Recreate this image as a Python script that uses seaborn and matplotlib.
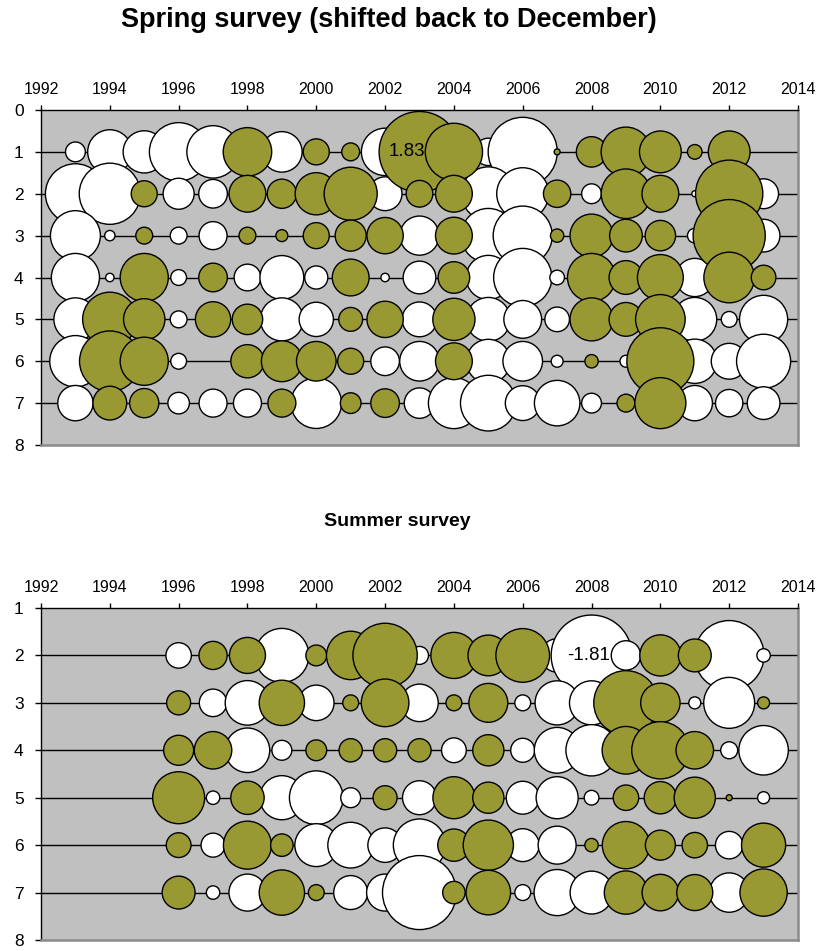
import numpy as np
import pandas as pd
import matplotlib
matplotlib.use("Agg")
import matplotlib.pyplot as plt
import seaborn as sns

# ---- data: standardized residuals by age (rows) and year ----
spring_years = list(range(1993, 2014))
summer_years = list(range(1996, 2014))
nan = np.nan

spring_age1 = [-0.11, -0.55, -0.50, -0.96, -0.77, 0.66, -0.46, 0.19, 0.09, -0.63, 1.83,
               0.92, -0.21, -1.34, 0.01, 0.26, 0.69, 0.49, 0.06, 0.49, nan]
spring_age2 = [-1.01, -1.05, 0.19, -0.27, -0.23, 0.38, 0.24, 0.50, 0.79, -0.32, 0.20,
               0.38, -0.81, -0.76, 0.21, -0.11, 0.69, 0.38, -0.01, 1.27, -0.25]
spring_age3 = [-0.70, -0.03, 0.08, -0.08, -0.22, 0.08, 0.04, 0.19, 0.27, 0.37, -0.43,
               0.38, -0.83, -0.98, 0.05, 0.52, 0.30, 0.26, -0.06, 1.46, -0.30]
spring_age4 = [-0.65, -0.02, 0.65, -0.07, 0.23, -0.20, -0.54, -0.15, 0.38, -0.02, -0.30,
               0.28, -0.55, -0.95, -0.06, 0.65, 0.32, 0.59, -0.41, 0.72, 0.17]
spring_age5 = [-0.52, 0.83, 0.48, -0.08, 0.35, 0.26, -0.52, -0.33, 0.16, 0.37, -0.34,
               0.50, -0.54, -0.40, -0.17, 0.52, 0.32, 0.69, -0.54, -0.07, -0.65]
spring_age6 = [-0.74, 1.03, 0.65, -0.07, nan, 0.31, 0.47, 0.44, 0.19, -0.23, -0.44,
               0.38, -0.54, -0.44, -0.04, 0.05, -0.04, 1.26, -0.55, -0.36, -0.82]
spring_age7 = [-0.35, 0.32, 0.24, -0.13, -0.22, -0.22, 0.22, -0.72, 0.12, 0.23, -0.26,
               -0.73, -0.87, -0.34, -0.58, -0.11, 0.09, 0.73, -0.35, -0.21, -0.30]

summer_age2 = [-0.18, 0.22, 0.36, -0.81, 0.12, 0.65, 1.15, -0.09, 0.59, 0.46, 0.80,
               -0.31, -1.81, -0.24, 0.47, 0.30, -1.35, -0.05]
summer_age3 = [0.16, -0.21, -0.55, 0.57, -0.35, 0.07, 0.63, -0.39, 0.07, 0.42, -0.07,
               -0.54, -0.54, 1.15, 0.43, -0.04, -0.72, 0.04]
summer_age4 = [0.25, 0.39, -0.55, -0.11, 0.12, 0.15, 0.15, 0.15, -0.17, 0.27, -0.16,
               -0.58, -0.73, 0.63, 0.91, 0.39, -0.08, -0.68]
summer_age5 = [0.75, -0.05, 0.31, -0.54, -0.80, -0.11, 0.16, -0.32, 0.49, 0.27, -0.30,
               -0.49, -0.06, 0.18, 0.29, 0.47, 0.01, -0.04]
summer_age6 = [0.17, -0.16, 0.64, 0.14, -0.51, -0.58, -0.33, -0.76, 0.29, 0.70, -0.30,
               -0.40, 0.05, 0.62, 0.25, 0.18, -0.21, 0.54]
summer_age7 = [0.30, -0.05, -0.38, 0.57, 0.07, -0.32, -0.38, -1.52, 0.14, 0.55, -0.07,
               -0.59, -0.51, 0.52, 0.37, 0.36, -0.43, 0.62]

spring_title = "Spring survey (shifted back to December)"
summer_title = "Summer survey"

GREEN = "#999933"
BG = "#C0C0C0"
SMAX = 3380  # marker area (pt^2) of the largest bubble in a panel


def long_table(years, rows):
    recs = []
    for age, vals in rows.items():
        for yr, v in zip(years, vals):
            if not np.isnan(v):
                recs.append({"year": yr, "age": age, "value": v})
    df = pd.DataFrame(recs)
    df["sign"] = np.where(df["value"] > 0, "pos", "neg")
    df["mag"] = df["value"].abs()
    # negative (open) bubbles first, positive bubbles on top
    df["order"] = (df["sign"] == "pos").astype(int)
    return df.sort_values(["order", "age", "year"], kind="stable").reset_index(drop=True)


def bubble_panel(ax, years, rows, ylim, yticks, label_at, label_offset):
    df = long_table(years, rows)
    ax.set_facecolor(BG)
    ax.hlines(list(rows.keys()), 1992, 2014, color="black", lw=1.0, zorder=1)
    sns.scatterplot(data=df, x="year", y="age", hue="sign", size="mag",
                    palette={"pos": GREEN, "neg": "white"},
                    sizes=(0, SMAX), size_norm=(0, df["mag"].max()),
                    edgecolor="black", linewidth=1.0, legend=False,
                    ax=ax, zorder=3)
    ax.set_xlim(1992, 2014)
    ax.set_ylim(*ylim)
    ax.set_xticks(range(1992, 2015, 2))
    ax.set_yticks(yticks)
    ax.xaxis.tick_top()
    ax.tick_params(axis="x", direction="out", length=3.5, width=1, pad=6,
                   labelsize=11.5, top=True, bottom=False, color="black",
                   labelcolor="black")
    ax.tick_params(axis="y", direction="out", length=4.5, width=1, pad=8,
                   labelsize=12.5, left=True, right=False, color="black",
                   labelcolor="black")
    ax.set_xlabel("")
    ax.set_ylabel("")
    for side in ("top", "left"):
        ax.spines[side].set_color("black")
        ax.spines[side].set_linewidth(1.0)
    for side in ("right", "bottom"):
        ax.spines[side].set_color("#8a8a8a")
        ax.spines[side].set_linewidth(1.8)
    ax.spines["top"].set_zorder(5)
    # value label on the largest bubble
    yr, age = label_at
    val = rows[age][years.index(yr)]
    ax.annotate(f"{val:.2f}", (yr, age), xytext=(label_offset, 0),
                textcoords="offset points", ha="center", va="center",
                fontsize=13.5, color="black", zorder=6)


sns.set_style("white")
plt.rcParams["font.family"] = ["Liberation Sans", "DejaVu Sans"]
plt.rcParams["text.color"] = "black"

fig = plt.figure(figsize=(8.23, 9.51), dpi=100)

ax_top = fig.add_axes([41 / 823, 1 - 445 / 951, 757 / 823, 335 / 951])
spring_rows = {1: spring_age1, 2: spring_age2, 3: spring_age3, 4: spring_age4,
               5: spring_age5, 6: spring_age6, 7: spring_age7}
bubble_panel(ax_top, spring_years, spring_rows, (8, 0), range(0, 9), (2003, 1), -9)

ax_bot = fig.add_axes([41 / 823, 1 - 940 / 951, 757 / 823, 332 / 951])
summer_rows = {2: summer_age2, 3: summer_age3, 4: summer_age4, 5: summer_age5,
               6: summer_age6, 7: summer_age7}
bubble_panel(ax_bot, summer_years, summer_rows, (8, 1), range(1, 9), (2008, 2), -2)

fig.text(389 / 823, 1 - 20 / 951, spring_title, ha="center", va="center",
         fontsize=19.5, fontweight="bold", color="black")
fig.text(397 / 823, 1 - 522 / 951, summer_title, ha="center", va="center",
         fontsize=14, fontweight="bold", color="black")

fig.savefig("out.png", dpi=100, facecolor="white")
